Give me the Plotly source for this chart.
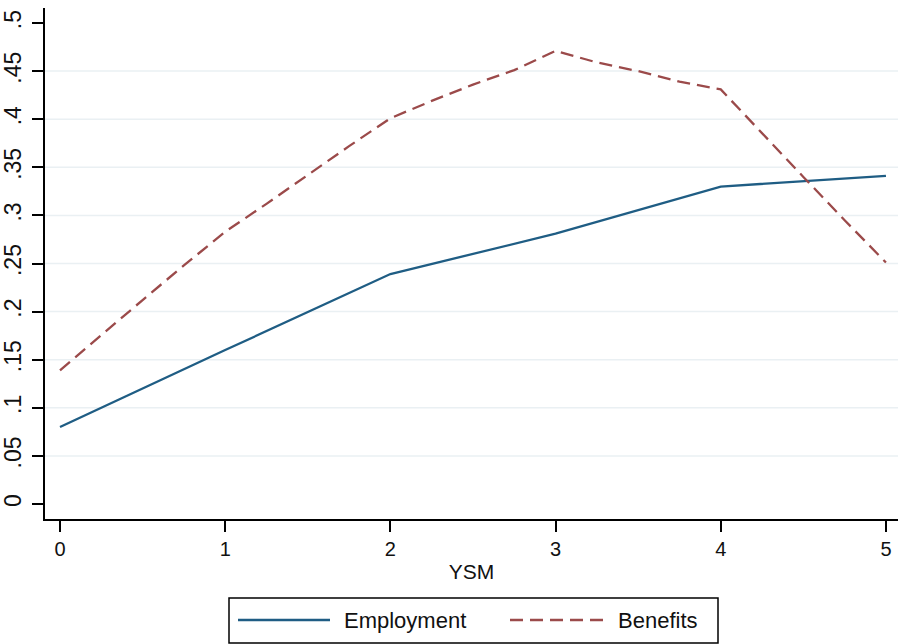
import plotly.graph_objects as go

# Years since migration (YSM) and the two outcome series
ysm = [0, 1, 2, 3, 4, 5]
employment = [0.080, 0.160, 0.239, 0.281, 0.330, 0.341]

ysm_benefits = [0, 0.25, 0.5, 0.75, 1, 1.25, 1.5, 1.75, 2, 2.25, 2.5, 2.75,
                3, 3.25, 3.5, 3.75, 4, 4.25, 4.5, 4.75, 5]
benefits = [0.139, 0.176, 0.212, 0.248, 0.283, 0.312, 0.342, 0.372, 0.401,
            0.419, 0.436, 0.451, 0.471, 0.459, 0.450, 0.439, 0.431, 0.385,
            0.340, 0.295, 0.251]

y_ticks = [0, 0.05, 0.1, 0.15, 0.2, 0.25, 0.3, 0.35, 0.4, 0.45, 0.5]
y_tick_text = ["0", ".05", ".1", ".15", ".2", ".25", ".3", ".35", ".4", ".45", ".5"]
grid_values = [0.05, 0.1, 0.15, 0.2, 0.25, 0.3, 0.35, 0.4, 0.45]
x_ticks = [0, 1, 2, 3, 4, 5]

series_names = ["Employment", "Benefits"]
navy = "#1f5d84"
maroon = "#9b4a4a"
FONT = "Liberation Sans, Arial, sans-serif"

fig = go.Figure()
fig.add_trace(go.Scatter(x=ysm, y=employment, mode="lines", name=series_names[0],
                         line=dict(color=navy, width=2.3)))
fig.add_trace(go.Scatter(x=ysm_benefits, y=benefits, mode="lines", name=series_names[1],
                         line=dict(color=maroon, width=2.3, dash="13px,7px")))

shapes = []
# light horizontal grid lines (interior ticks only)
for g in grid_values:
    shapes.append(dict(type="line", xref="paper", yref="y", x0=0, x1=1, y0=g, y1=g,
                       line=dict(color="#eaf0f3", width=1.5), layer="below"))

# legend box drawn below the plot area
W, H = 853.0, 511.0   # plot area size in px
L, T = 45.0, 8.0      # plot area offset in px


def px(x):
    return (x - L) / W


def py(y):
    return (T + H - y) / H


shapes.append(dict(type="rect", xref="paper", yref="paper",
                   x0=px(229), x1=px(718), y0=py(643), y1=py(598),
                   line=dict(color="black", width=1.5), fillcolor="white", layer="above"))
shapes.append(dict(type="line", xref="paper", yref="paper",
                   x0=px(238), x1=px(330), y0=py(620), y1=py(620),
                   line=dict(color=navy, width=2.3)))
shapes.append(dict(type="line", xref="paper", yref="paper",
                   x0=px(510), x1=px(603), y0=py(620), y1=py(620),
                   line=dict(color=maroon, width=2.3, dash="13px,7px")))

annotations = [
    dict(text=series_names[0], xref="paper", yref="paper", x=px(342), y=py(620),
         xanchor="left", yanchor="middle", showarrow=False,
         font=dict(family=FONT, size=22, color="#111")),
    dict(text=series_names[1], xref="paper", yref="paper", x=px(616), y=py(620),
         xanchor="left", yanchor="middle", showarrow=False,
         font=dict(family=FONT, size=22, color="#111")),
]

fig.update_layout(
    width=900, height=644,
    margin=dict(l=45, r=2, t=8, b=125),
    paper_bgcolor="white", plot_bgcolor="white",
    showlegend=False,
    font=dict(family=FONT, size=20, color="#111"),
    shapes=shapes,
    annotations=annotations,
    xaxis=dict(range=[-0.0908, 5.073], tickvals=x_ticks, showgrid=False, zeroline=False,
               showline=True, linecolor="black", linewidth=2,
               ticks="outside", ticklen=11, tickwidth=2, tickcolor="black",
               tickfont=dict(size=20), automargin=False,
               title=dict(text="YSM", standoff=5, font=dict(size=21))),
    yaxis=dict(range=[-0.0156, 0.5156], tickvals=y_ticks, ticktext=y_tick_text,
               tickangle=-90, showgrid=False, zeroline=False,
               showline=True, linecolor="black", linewidth=2,
               ticks="outside", ticklen=11, tickwidth=2, tickcolor="black",
               tickfont=dict(size=23), ticklabelstandoff=2, automargin=False),
)

fig.write_html("out.html")
